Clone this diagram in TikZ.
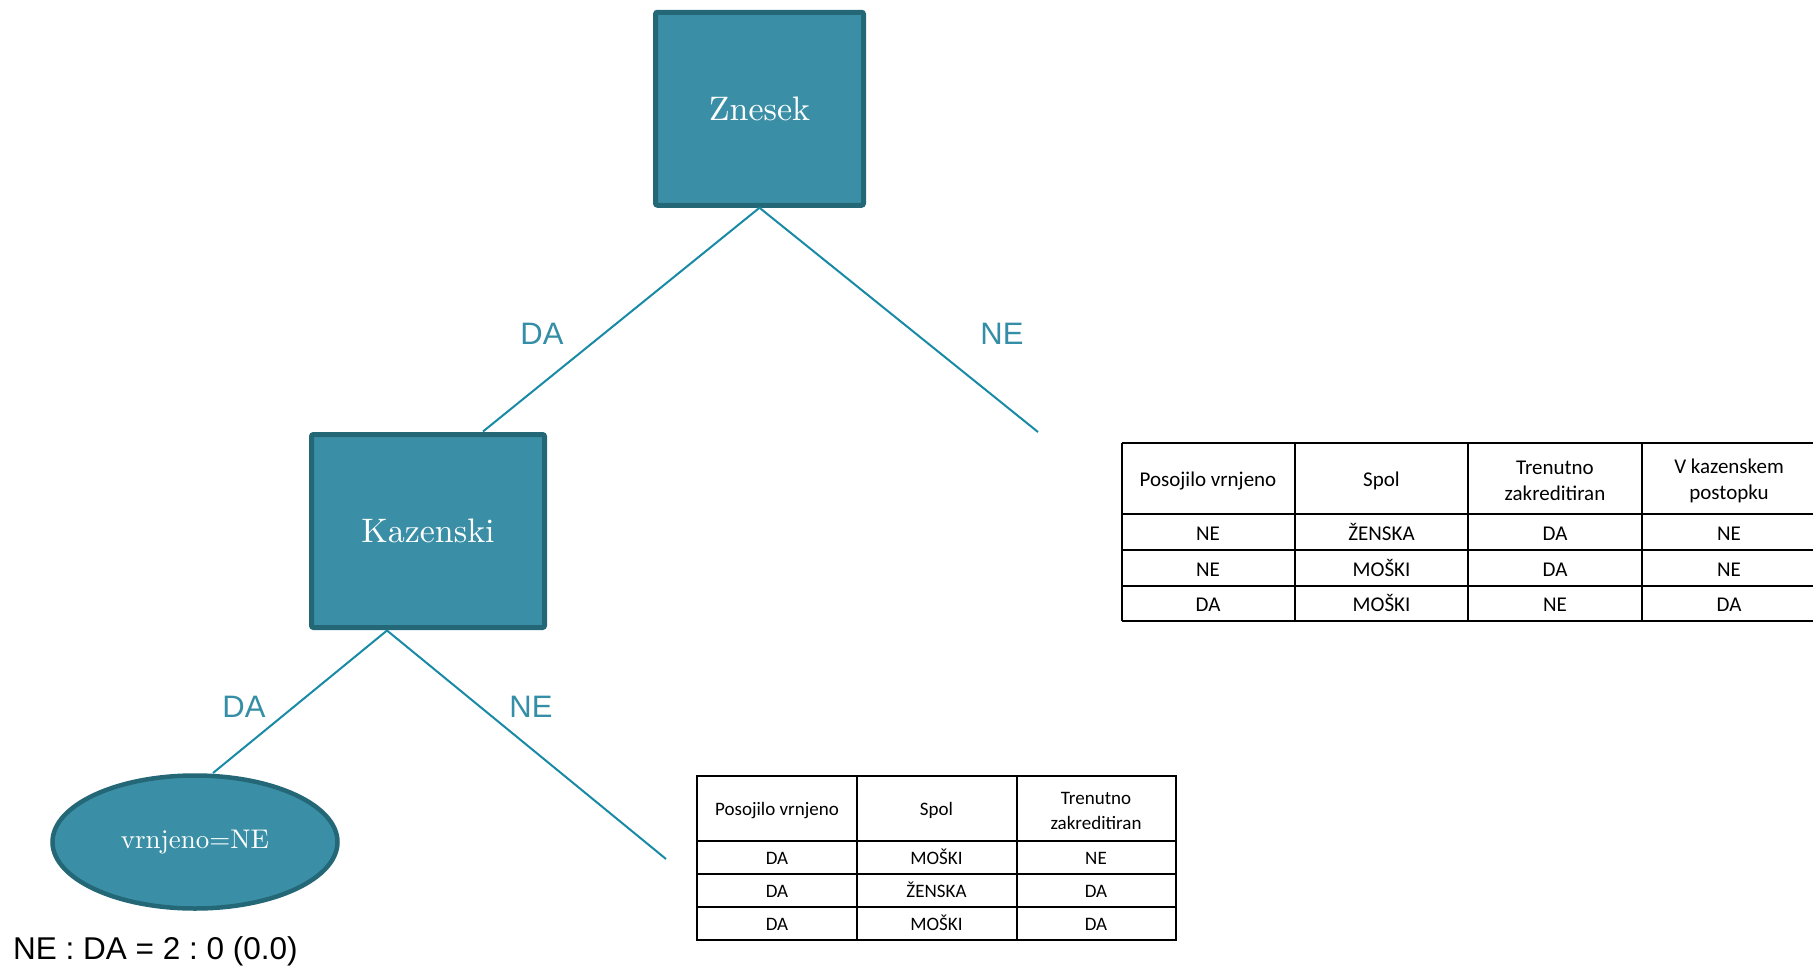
\documentclass[tikz,border=0pt]{standalone}
\usepackage{fontspec}
\newfontfamily\arialf{Liberation Sans}
\newfontfamily\calf{Carlito}
\newfontfamily\lmten{lmroman10-regular.otf}
\usetikzlibrary{shapes.geometric}
\definecolor{tfill}{RGB}{58,143,166}
\definecolor{tborder}{RGB}{36,104,120}
\definecolor{tline}{RGB}{24,138,166}
\definecolor{tlabel}{RGB}{52,142,166}
\tikzset{
  splitbox/.style={draw=tborder, fill=tfill, line width=5pt, rounded corners=2pt,
    text=white, font=\lmten\fontsize{34}{40}\selectfont, inner sep=0pt},
  leafnode/.style={ellipse, draw=tborder, fill=tfill, line width=4.5pt,
    text=white, font=\lmten\fontsize{27}{32}\selectfont, inner sep=0pt},
  edge/.style={draw=tline, line width=2pt},
  elabel/.style={text=tlabel, font=\arialf\fontsize{31}{36}\selectfont, inner sep=0pt},
  tgrid/.style={draw=black, line width=2pt},
  tcellA/.style={font=\calf\fontsize{21}{26.5}\selectfont, align=center, inner sep=0pt},
  tcellB/.style={font=\calf\fontsize{19}{25}\selectfont, align=center, inner sep=0pt},
}
\begin{document}
\begin{tikzpicture}[x=1pt,y=-1pt]
\useasboundingbox (0,0) rectangle (1813,969);
\clip (0,0) rectangle (1813,969);
\fill[white] (0,0) rectangle (1813,969);

% nodes
\node[splitbox, minimum width=208pt, minimum height=193pt] (zn) at (759.5,108.75) {Znesek};
\node[splitbox, minimum width=233pt, minimum height=193pt] (kaz) at (428,531) {Kazenski};
\node[leafnode, minimum width=285pt, minimum height=133pt] (leaf) at (195,842) {vrnjeno=NE};

% connector end points
\coordinate (kazTop) at (483,431.5);
\coordinate (kazBot) at (387,630.5);
\coordinate (leafTop) at (213,773);
\coordinate (neEnd1) at (1038,432);
\coordinate (neEnd2) at (666,859);

% edges
\draw[edge] (zn.south) -- (kazTop);
\draw[edge] (zn.south) -- (neEnd1);
\draw[edge] (kazBot) -- (leafTop);
\draw[edge] (kazBot) -- (neEnd2);

% edge labels
\node[elabel] (l1) at (542,334) {DA};
\node[elabel] (l2) at (1002,334) {NE};
\node[elabel] (l3) at (244,706.5) {DA};
\node[elabel] (l4) at (531,706.5) {NE};

% leaf statistics
\node[anchor=base west, inner sep=0pt, font=\arialf\fontsize{31.5}{36}\selectfont] (stat) at (13,959) {\frenchspacing NE : DA = 2 : 0 (0.0)};

% table 1
\draw[tgrid] (1121.5,443) -- (1816,443);
\draw[tgrid] (1121.5,514) -- (1816,514);
\draw[tgrid] (1121.5,550) -- (1816,550);
\draw[tgrid] (1121.5,586) -- (1816,586);
\draw[tgrid] (1121.5,621) -- (1816,621);
\foreach \x in {1121.5,1295,1468,1642}{\draw[tgrid] (\x,443) -- (\x,621);}
\node[tcellA] (a11) at (1208,481) {Posojilo vrnjeno};
\node[tcellA] (a12) at (1381.5,481) {Spol};
\node[tcellA] (a13) at (1555,481) {Trenutno\\zakreditiran};
\node[tcellA] (a14) at (1729,481) {V kazenskem\\postopku};
\node[tcellA, anchor=base] (a21) at (1208,540.5) {NE};
\node[tcellA, anchor=base] (a22) at (1381.5,540.5) {ŽENSKA};
\node[tcellA, anchor=base] (a23) at (1555,540.5) {DA};
\node[tcellA, anchor=base] (a24) at (1729,540.5) {NE};
\node[tcellA, anchor=base] (a31) at (1208,576) {NE};
\node[tcellA, anchor=base] (a32) at (1381.5,576) {MOŠKI};
\node[tcellA, anchor=base] (a33) at (1555,576) {DA};
\node[tcellA, anchor=base] (a34) at (1729,576) {NE};
\node[tcellA, anchor=base] (a41) at (1208,611.5) {DA};
\node[tcellA, anchor=base] (a42) at (1381.5,611.5) {MOŠKI};
\node[tcellA, anchor=base] (a43) at (1555,611.5) {NE};
\node[tcellA, anchor=base] (a44) at (1729,611.5) {DA};

% table 2
\draw[tgrid] (697,776) rectangle (1176,940);
\draw[tgrid] (697,841) -- (1176,841);
\draw[tgrid] (697,874) -- (1176,874);
\draw[tgrid] (697,907) -- (1176,907);
\draw[tgrid] (857,776) -- (857,940);
\draw[tgrid] (1016.5,776) -- (1016.5,940);
\node[tcellB] (b11) at (777,810.5) {Posojilo vrnjeno};
\node[tcellB] (b12) at (936.5,810.5) {Spol};
\node[tcellB] (b13) at (1096,810.5) {Trenutno\\zakreditiran};
\node[tcellB, anchor=base] (b21) at (777,864.5) {DA};
\node[tcellB, anchor=base] (b22) at (936.5,864.5) {MOŠKI};
\node[tcellB, anchor=base] (b23) at (1096,864.5) {NE};
\node[tcellB, anchor=base] (b31) at (777,897) {DA};
\node[tcellB, anchor=base] (b32) at (936.5,897) {ŽENSKA};
\node[tcellB, anchor=base] (b33) at (1096,897) {DA};
\node[tcellB, anchor=base] (b41) at (777,930) {DA};
\node[tcellB, anchor=base] (b42) at (936.5,930) {MOŠKI};
\node[tcellB, anchor=base] (b43) at (1096,930) {DA};
\end{tikzpicture}
\end{document}
